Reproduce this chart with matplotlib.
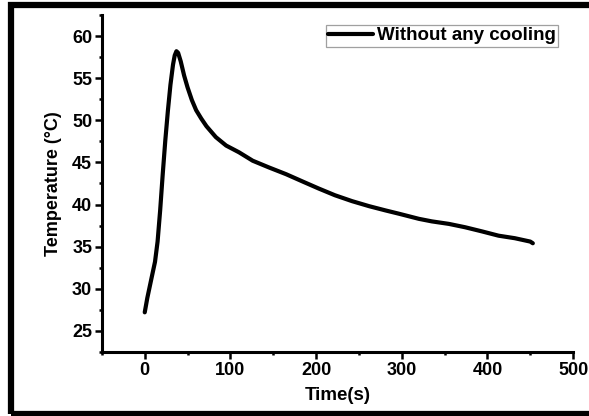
import numpy as np
import matplotlib
matplotlib.use('Agg')
import matplotlib.pyplot as plt
from matplotlib.patches import Rectangle
from matplotlib.ticker import MultipleLocator

plt.rcParams['font.family'] = ['Liberation Sans', 'DejaVu Sans']
plt.rcParams['font.weight'] = 'bold'

# 数据：曲线点
time_s = [0, 3, 8, 12, 15, 18, 21, 24, 27, 30, 33, 35, 37, 39, 42, 46, 50,
          55, 60, 66, 72, 83, 95, 110, 126, 145, 165, 185, 203, 222, 242, 262,
          281, 297, 320, 335, 355, 374, 394, 413, 432, 450, 453]
temp_c = [27.2, 28.9, 31.3, 33.2, 35.6, 39.3, 43.6, 47.6, 51.1, 54.2, 56.6,
          57.7, 58.2, 58.0, 57.0, 55.3, 53.9, 52.4, 51.2, 50.2, 49.3, 48.0,
          47.0, 46.2, 45.2, 44.4, 43.6, 42.7, 41.9, 41.1, 40.4, 39.8, 39.3,
          38.9, 38.3, 38.0, 37.7, 37.3, 36.8, 36.3, 36.0, 35.6, 35.4]
legend_label = "Without any cooling"

fig = plt.figure(figsize=(5.89, 4.16), dpi=100)
ax = fig.add_axes([0.173, 0.154, 0.800, 0.810])

ax.plot(time_s, temp_c, color='black', lw=3.0, solid_capstyle='round',
        solid_joinstyle='round', label=legend_label)

ax.set_xlim(-50, 500)
ax.set_ylim(22.5, 62.5)
ax.xaxis.set_minor_locator(MultipleLocator(50))
ax.yaxis.set_minor_locator(MultipleLocator(2.5))
ax.set_xticks([0, 100, 200, 300, 400, 500])
ax.set_yticks([25, 30, 35, 40, 45, 50, 55, 60])

for s in ['top', 'right']:
    ax.spines[s].set_visible(False)
for s in ['left', 'bottom']:
    ax.spines[s].set_linewidth(2.2)

ax.tick_params(which='major', direction='out', length=5, width=1.8,
               labelsize=13, pad=2)
ax.tick_params(which='minor', direction='out', length=2.5, width=1.8)

ax.set_xlabel("Time(s)", fontsize=13.5, fontweight='bold', labelpad=6)
ax.set_ylabel("Temperature (°C)", fontsize=13, fontweight='bold', labelpad=7)

leg = ax.legend(loc='upper right', bbox_to_anchor=(0.968, 0.970), fontsize=13.5,
                frameon=True, fancybox=False, handlelength=2.4,
                borderpad=0.12, handletextpad=0.2, borderaxespad=0)
leg.get_frame().set_edgecolor('#888888')
leg.get_frame().set_linewidth(0.9)
for t in leg.get_texts():
    t.set_fontweight('bold')

# 外框（右侧被裁掉）
fig.patches.append(Rectangle((0.0195, 0.006), 1.2, 0.981, transform=fig.transFigure,
                             fill=False, edgecolor='black', lw=4.5))

fig.savefig('out.png', dpi=100)
